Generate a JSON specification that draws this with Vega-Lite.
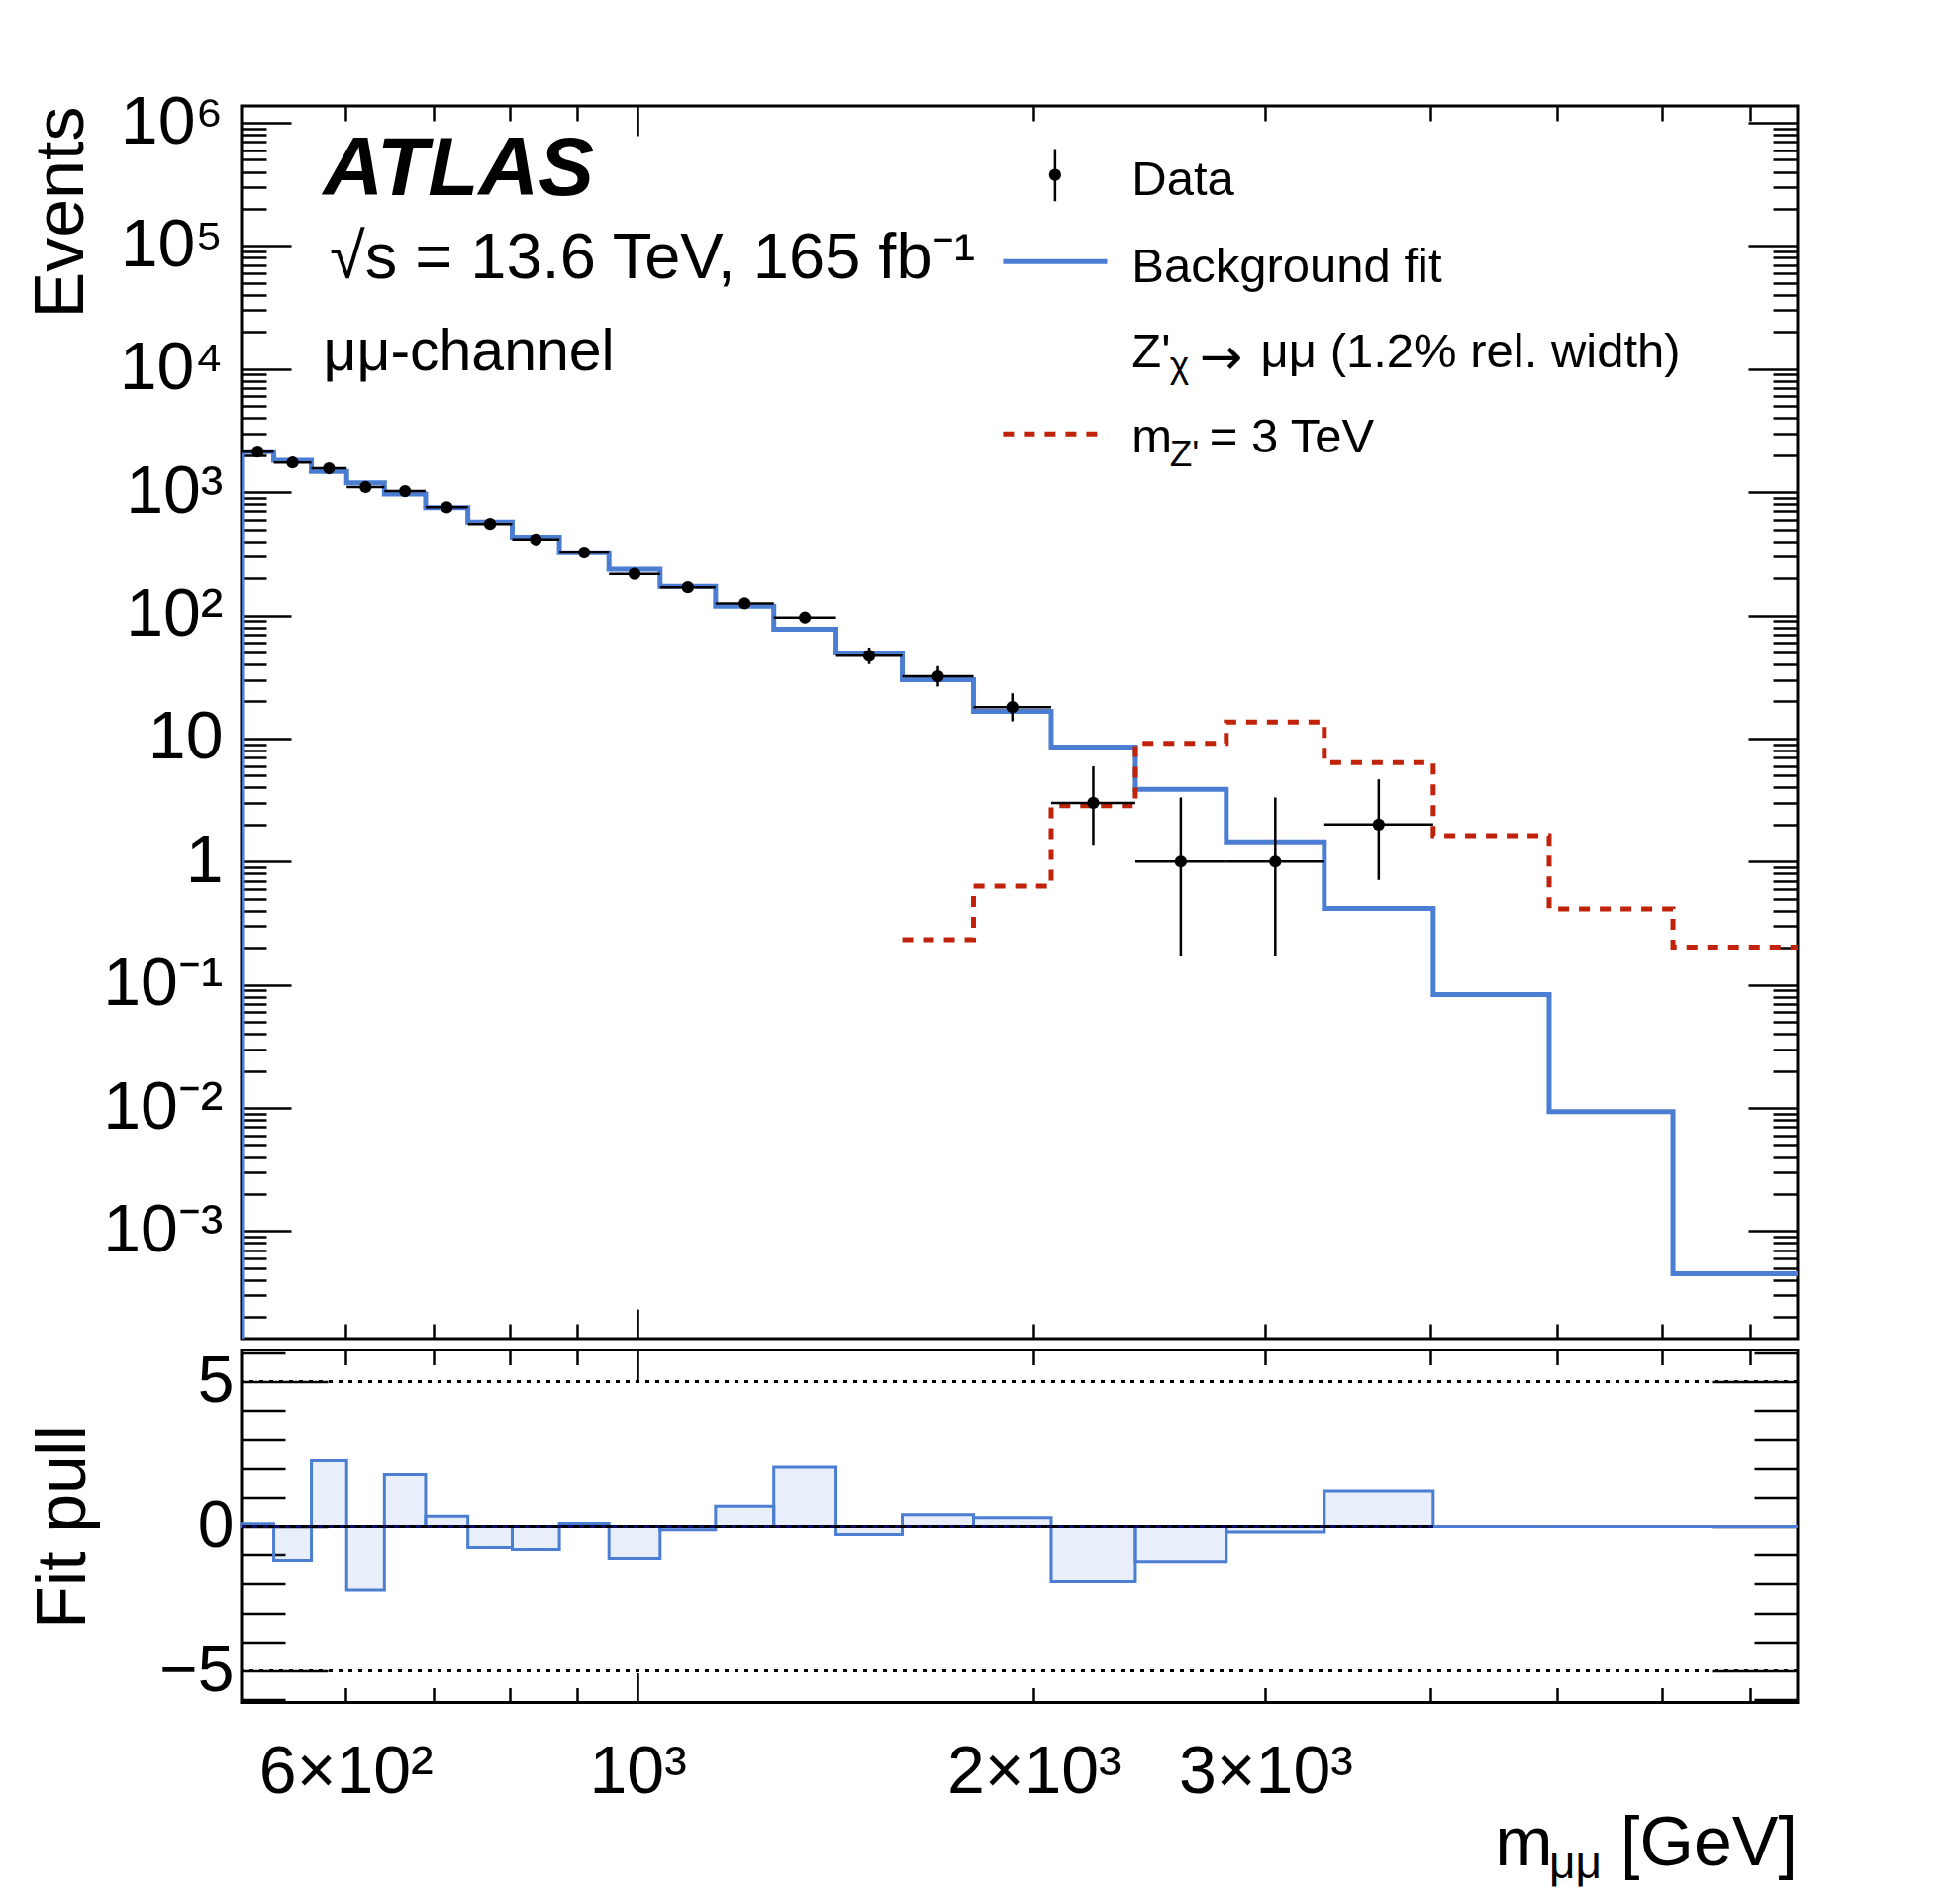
{
  "$schema": "https://vega.github.io/schema/vega-lite/v6.json",
  "background": "white",
  "padding": {"left": 25, "top": 88, "right": 5, "bottom": 5},
  "config": {
    "view": {"stroke": "black", "strokeWidth": 3},
    "axis": {
      "grid": false, "domain": false, "tickColor": "black", "tickWidth": 2.5,
      "labelFont": "Liberation Sans", "labelColor": "black", "titleFont": "Liberation Sans",
      "titleColor": "black", "titleFontWeight": "normal", "labelOverlap": false, "labelFlush": false, "labelBound": false
    },
    "text": {"font": "Liberation Sans", "color": "black"}
  },
  "datasets": {
    "bkg": [
      {"m": 500, "v": 0.0001}, {"m": 500, "v": 2130}, {"m": 529, "v": 1813}, {"m": 565, "v": 1474},
      {"m": 601, "v": 1189}, {"m": 642, "v": 966}, {"m": 690, "v": 750}, {"m": 743, "v": 573},
      {"m": 803, "v": 432}, {"m": 872, "v": 322}, {"m": 951, "v": 237}, {"m": 1040, "v": 172},
      {"m": 1146, "v": 119}, {"m": 1269, "v": 77.3}, {"m": 1415, "v": 49.6}, {"m": 1589, "v": 30.0},
      {"m": 1800, "v": 16.6}, {"m": 2062, "v": 8.52}, {"m": 2389, "v": 3.87}, {"m": 2801, "v": 1.449},
      {"m": 3325, "v": 0.417}, {"m": 4023, "v": 0.0834}, {"m": 4928, "v": 0.00935},
      {"m": 6120, "v": 0.000451}, {"m": 7612, "v": 0.000451}
    ],
    "sig": [
      {"m": 1589, "v": 0.233}, {"m": 1800, "v": 0.632}, {"m": 2062, "v": 2.85}, {"m": 2389, "v": 9.15},
      {"m": 2801, "v": 13.6}, {"m": 3325, "v": 6.37}, {"m": 4023, "v": 1.625}, {"m": 4928, "v": 0.413},
      {"m": 6120, "v": 0.203}, {"m": 7612, "v": 0.203}
    ],
    "counts": [
      {"lo": 500, "hi": 529, "c": 514.3, "n": 2135, "nlo": 2089, "nhi": 2182},
      {"lo": 529, "hi": 565, "c": 546.7, "n": 1740, "nlo": 1698, "nhi": 1782},
      {"lo": 565, "hi": 601, "c": 582.7, "n": 1563, "nlo": 1524, "nhi": 1603},
      {"lo": 601, "hi": 642, "c": 621.2, "n": 1100, "nlo": 1067, "nhi": 1134},
      {"lo": 642, "hi": 690, "c": 665.6, "n": 1020, "nlo": 988, "nhi": 1053},
      {"lo": 690, "hi": 743, "c": 716.0, "n": 755, "nlo": 728, "nhi": 783},
      {"lo": 743, "hi": 803, "c": 772.4, "n": 553, "nlo": 530, "nhi": 577},
      {"lo": 803, "hi": 872, "c": 836.8, "n": 414, "nlo": 394, "nhi": 435},
      {"lo": 872, "hi": 951, "c": 910.7, "n": 324, "nlo": 306, "nhi": 343},
      {"lo": 951, "hi": 1040, "c": 994.5, "n": 217, "nlo": 202, "nhi": 233},
      {"lo": 1040, "hi": 1146, "c": 1091.7, "n": 169, "nlo": 156, "nhi": 183},
      {"lo": 1146, "hi": 1269, "c": 1205.9, "n": 125, "nlo": 114, "nhi": 137},
      {"lo": 1269, "hi": 1415, "c": 1340.0, "n": 96, "nlo": 86.7, "nhi": 106.8},
      {"lo": 1415, "hi": 1589, "c": 1499.5, "n": 47, "nlo": 40.2, "nhi": 54.9},
      {"lo": 1589, "hi": 1800, "c": 1691.2, "n": 32, "nlo": 26.4, "nhi": 38.7},
      {"lo": 1800, "hi": 2062, "c": 1926.6, "n": 18, "nlo": 13.8, "nhi": 23.3},
      {"lo": 2062, "hi": 2389, "c": 2219.5, "n": 3, "nlo": 1.37, "nhi": 5.94},
      {"lo": 2389, "hi": 2801, "c": 2586.8, "n": 1, "nlo": 0.17, "nhi": 3.32},
      {"lo": 2801, "hi": 3325, "c": 3051.8, "n": 1, "nlo": 0.17, "nhi": 3.32},
      {"lo": 3325, "hi": 4023, "c": 3657.4, "n": 2, "nlo": 0.71, "nhi": 4.66}
    ],
    "pull": [
      {"lo": 500, "hi": 529, "pull": 0.09}, {"lo": 529, "hi": 565, "pull": -1.2},
      {"lo": 565, "hi": 601, "pull": 2.26}, {"lo": 601, "hi": 642, "pull": -2.21},
      {"lo": 642, "hi": 690, "pull": 1.78}, {"lo": 690, "hi": 743, "pull": 0.35},
      {"lo": 743, "hi": 803, "pull": -0.72}, {"lo": 803, "hi": 872, "pull": -0.79},
      {"lo": 872, "hi": 951, "pull": 0.10}, {"lo": 951, "hi": 1040, "pull": -1.13},
      {"lo": 1040, "hi": 1146, "pull": -0.11}, {"lo": 1146, "hi": 1269, "pull": 0.69},
      {"lo": 1269, "hi": 1415, "pull": 2.04}, {"lo": 1415, "hi": 1589, "pull": -0.27},
      {"lo": 1589, "hi": 1800, "pull": 0.40}, {"lo": 1800, "hi": 2062, "pull": 0.30},
      {"lo": 2062, "hi": 2389, "pull": -1.92}, {"lo": 2389, "hi": 2801, "pull": -1.24},
      {"lo": 2801, "hi": 3325, "pull": -0.19}, {"lo": 3325, "hi": 4023, "pull": 1.22},
      {"lo": 4023, "hi": 4928, "pull": 0}, {"lo": 4928, "hi": 6120, "pull": 0},
      {"lo": 6120, "hi": 7612, "pull": 0}
    ]
  },
  "bounds": "flush",
  "spacing": 11.5,
  "vconcat": [
    {
      "width": 1572,
      "height": 1245,
      "layer": [
        {
          "data": {"name": "bkg"},
          "mark": {"type": "line", "interpolate": "step-after", "stroke": "#4b7dd2", "strokeWidth": 5, "clip": true},
          "encoding": {
            "x": {"field": "m", "type": "quantitative", "scale": {"type": "log", "domain": [500, 7612], "nice": false},
              "axis": {"orient": "bottom", "values": [600, 700, 800, 900, 2000, 3000, 4000, 5000, 6000, 7000], "tickSize": -15, "labels": false, "title": null}},
            "y": {"field": "v", "type": "quantitative", "scale": {"type": "log", "domain": [0.000134, 1370000], "nice": false},
              "axis": {"orient": "left", "values": [0.001, 0.01, 0.1, 1, 10, 100, 1000, 10000, 100000, 1000000], "tickSize": -50,
                "labelExpr": "datum.value >= 1e6 ? '10⁶' : datum.value >= 1e5 ? '10⁵' : datum.value >= 1e4 ? '10⁴' : datum.value >= 1000 ? '10³' : datum.value >= 100 ? '10²' : datum.value >= 10 ? '10' : datum.value >= 1 ? '1' : datum.value >= 0.1 ? '10⁻¹' : datum.value >= 0.01 ? '10⁻²' : '10⁻³'",
                "labelFontSize": 68, "labelPadding": 69,
                "title": "Events", "titleFontSize": 70, "titleAngle": -90, "titleX": -182, "titleY": 0, "titleAlign": "right", "titleBaseline": "middle"}}
          }
        },
        {
          "data": {"name": "sig"},
          "mark": {"type": "line", "interpolate": "step-after", "stroke": "#c0230a", "strokeWidth": 5, "strokeDash": [11, 10], "clip": true},
          "encoding": {
            "x": {"field": "m", "type": "quantitative", "scale": {"type": "log", "domain": [500, 7612], "nice": false},
              "axis": {"orient": "bottom", "values": [1000], "tickSize": -30, "labels": false, "title": null}},
            "y": {"field": "v", "type": "quantitative", "scale": {"type": "log", "domain": [0.000134, 1370000], "nice": false},
              "axis": {"orient": "left", "values": [0.0002,0.0003,0.0004,0.0005,0.0006,0.0007,0.0008,0.0009,0.002,0.003,0.004,0.005,0.006,0.007,0.008,0.009,0.02,0.03,0.04,0.05,0.06,0.07,0.08,0.09,0.2,0.3,0.4,0.5,0.6,0.7,0.8,0.9,2,3,4,5,6,7,8,9,20,30,40,50,60,70,80,90,200,300,400,500,600,700,800,900,2000,3000,4000,5000,6000,7000,8000,9000,20000,30000,40000,50000,60000,70000,80000,90000,200000,300000,400000,500000,600000,700000,800000,900000], "tickSize": -25, "labels": false, "title": null}}
          }
        },
        {
          "data": {"name": "counts"},
          "mark": {"type": "rule", "stroke": "black", "strokeWidth": 2.5},
          "encoding": {
            "x": {"field": "lo", "type": "quantitative", "scale": {"type": "log", "domain": [500, 7612], "nice": false},
              "axis": {"orient": "top", "values": [600, 700, 800, 900, 2000, 3000, 4000, 5000, 6000, 7000], "tickSize": -15, "labels": false, "title": null}},
            "x2": {"field": "hi"},
            "y": {"field": "n", "type": "quantitative", "scale": {"type": "log", "domain": [0.000134, 1370000], "nice": false},
              "axis": {"orient": "right", "values": [0.001, 0.01, 0.1, 1, 10, 100, 1000, 10000, 100000, 1000000], "tickSize": -50, "labels": false, "title": null}}
          }
        },
        {
          "data": {"name": "counts"},
          "mark": {"type": "rule", "stroke": "black", "strokeWidth": 2.5},
          "encoding": {
            "x": {"field": "c", "type": "quantitative", "scale": {"type": "log", "domain": [500, 7612], "nice": false},
              "axis": {"orient": "top", "values": [1000], "tickSize": -30, "labels": false, "title": null}},
            "y": {"field": "nlo", "type": "quantitative", "scale": {"type": "log", "domain": [0.000134, 1370000], "nice": false},
              "axis": {"orient": "right", "values": [0.0002,0.0003,0.0004,0.0005,0.0006,0.0007,0.0008,0.0009,0.002,0.003,0.004,0.005,0.006,0.007,0.008,0.009,0.02,0.03,0.04,0.05,0.06,0.07,0.08,0.09,0.2,0.3,0.4,0.5,0.6,0.7,0.8,0.9,2,3,4,5,6,7,8,9,20,30,40,50,60,70,80,90,200,300,400,500,600,700,800,900,2000,3000,4000,5000,6000,7000,8000,9000,20000,30000,40000,50000,60000,70000,80000,90000,200000,300000,400000,500000,600000,700000,800000,900000], "tickSize": -25, "labels": false, "title": null}},
            "y2": {"field": "nhi"}
          }
        },
        {
          "data": {"name": "counts"},
          "mark": {"type": "point", "filled": true, "color": "black", "size": 150, "opacity": 1},
          "encoding": {
            "x": {"field": "c", "type": "quantitative", "scale": {"type": "log", "domain": [500, 7612], "nice": false}, "axis": null},
            "y": {"field": "n", "type": "quantitative", "scale": {"type": "log", "domain": [0.000134, 1370000], "nice": false}, "axis": null}
          }
        },
        {
          "data": {"values": [{"a": 1895.6, "b": 2274, "y": 74530}]},
          "mark": {"type": "rule", "stroke": "#4b7dd2", "strokeWidth": 5},
          "encoding": {
            "x": {"field": "a", "type": "quantitative", "scale": {"type": "log", "domain": [500, 7612], "nice": false}, "axis": null}, "x2": {"field": "b"},
            "y": {"field": "y", "type": "quantitative", "scale": {"type": "log", "domain": [0.000134, 1370000], "nice": false}, "axis": null}
          }
        },
        {
          "data": {"values": [{"a": 1895.6, "b": 2274, "y": 2972}]},
          "mark": {"type": "rule", "stroke": "#c0230a", "strokeWidth": 5, "strokeDash": [11, 10]},
          "encoding": {
            "x": {"field": "a", "type": "quantitative", "scale": {"type": "log", "domain": [500, 7612], "nice": false}, "axis": null}, "x2": {"field": "b"},
            "y": {"field": "y", "type": "quantitative", "scale": {"type": "log", "domain": [0.000134, 1370000], "nice": false}, "axis": null}
          }
        },
        {
          "data": {"values": [{"x": 2076, "lo": 230600, "hi": 611700}]},
          "mark": {"type": "rule", "stroke": "black", "strokeWidth": 2.5},
          "encoding": {
            "x": {"field": "x", "type": "quantitative", "scale": {"type": "log", "domain": [500, 7612], "nice": false}, "axis": null},
            "y": {"field": "lo", "type": "quantitative", "scale": {"type": "log", "domain": [0.000134, 1370000], "nice": false}, "axis": null}, "y2": {"field": "hi"}
          }
        },
        {
          "data": {"values": [{"x": 2076, "y": 378000}]},
          "mark": {"type": "point", "filled": true, "color": "black", "size": 150, "opacity": 1},
          "encoding": {
            "x": {"field": "x", "type": "quantitative", "scale": {"type": "log", "domain": [500, 7612], "nice": false}, "axis": null},
            "y": {"field": "y", "type": "quantitative", "scale": {"type": "log", "domain": [0.000134, 1370000], "nice": false}, "axis": null}
          }
        },
        {
          "data": {"values": [{"x": 576.7, "y": 257700, "t": "ATLAS"}]},
          "mark": {"type": "text", "align": "left", "baseline": "alphabetic", "fontSize": 84, "fontWeight": "bold", "fontStyle": "italic"},
          "encoding": {
            "x": {"field": "x", "type": "quantitative", "scale": {"type": "log", "domain": [500, 7612], "nice": false}, "axis": null},
            "y": {"field": "y", "type": "quantitative", "scale": {"type": "log", "domain": [0.000134, 1370000], "nice": false}, "axis": null},
            "text": {"field": "t"}
          }
        },
        {
          "data": {"values": [{"x": 583.4, "y": 55120, "t": "√s = 13.6 TeV, 165 fb⁻¹"}]},
          "mark": {"type": "text", "align": "left", "baseline": "alphabetic", "fontSize": 65},
          "encoding": {
            "x": {"field": "x", "type": "quantitative", "scale": {"type": "log", "domain": [500, 7612], "nice": false}, "axis": null},
            "y": {"field": "y", "type": "quantitative", "scale": {"type": "log", "domain": [0.000134, 1370000], "nice": false}, "axis": null},
            "text": {"field": "t"}
          }
        },
        {
          "data": {"values": [{"x": 576.7, "y": 9777, "t": "μμ-channel"}]},
          "mark": {"type": "text", "align": "left", "baseline": "alphabetic", "fontSize": 59},
          "encoding": {
            "x": {"field": "x", "type": "quantitative", "scale": {"type": "log", "domain": [500, 7612], "nice": false}, "axis": null},
            "y": {"field": "y", "type": "quantitative", "scale": {"type": "log", "domain": [0.000134, 1370000], "nice": false}, "axis": null},
            "text": {"field": "t"}
          }
        },
        {
          "data": {"values": [
            {"x": 2374, "y": 257700, "t": "Data"},
            {"x": 2374, "y": 51170, "t": "Background fit"},
            {"x": 2374, "y": 10410, "t": "Z'"},
            {"x": 2975, "y": 10410, "t": "μμ (1.2% rel. width)"},
            {"x": 2374, "y": 2091, "t": "m"},
            {"x": 2719, "y": 2091, "t": "= 3 TeV"}
          ]},
          "mark": {"type": "text", "align": "left", "baseline": "alphabetic", "fontSize": 49},
          "encoding": {
            "x": {"field": "x", "type": "quantitative", "scale": {"type": "log", "domain": [500, 7612], "nice": false}, "axis": null},
            "y": {"field": "y", "type": "quantitative", "scale": {"type": "log", "domain": [0.000134, 1370000], "nice": false}, "axis": null},
            "text": {"field": "t"}
          }
        },
        {
          "data": {"values": [{"x": 2673, "y": 12140, "t": "→"}]},
          "mark": {"type": "text", "align": "left", "baseline": "middle", "fontSize": 52, "font": "DejaVu Sans"},
          "encoding": {
            "x": {"field": "x", "type": "quantitative", "scale": {"type": "log", "domain": [500, 7612], "nice": false}, "axis": null},
            "y": {"field": "y", "type": "quantitative", "scale": {"type": "log", "domain": [0.000134, 1370000], "nice": false}, "axis": null},
            "text": {"field": "t"}
          }
        },
        {
          "data": {"values": [
            {"x": 2537, "y": 8542, "t": "χ"},
            {"x": 2537, "y": 1614, "t": "Z'"}
          ]},
          "mark": {"type": "text", "align": "left", "baseline": "alphabetic", "fontSize": 37},
          "encoding": {
            "x": {"field": "x", "type": "quantitative", "scale": {"type": "log", "domain": [500, 7612], "nice": false}, "axis": null},
            "y": {"field": "y", "type": "quantitative", "scale": {"type": "log", "domain": [0.000134, 1370000], "nice": false}, "axis": null},
            "text": {"field": "t"}
          }
        }
      ],
      "resolve": {"axis": {"x": "independent", "y": "independent"}}
    },
    {
      "width": 1572,
      "height": 356,
      "layer": [
        {
          "data": {"name": "pull"},
          "mark": {"type": "rect", "fill": "#4b7dd2", "fillOpacity": 0.12, "stroke": "#4b7dd2", "strokeWidth": 3},
          "encoding": {
            "x": {"field": "lo", "type": "quantitative", "scale": {"type": "log", "domain": [500, 7612], "nice": false},
              "axis": {"orient": "bottom", "values": [600, 700, 800, 900, 2000, 3000, 4000, 5000, 6000, 7000], "tickSize": -15,
                "labelExpr": "datum.value == 600 ? '6×10²' : datum.value == 2000 ? '2×10³' : datum.value == 3000 ? '3×10³' : ''",
                "labelFontSize": 68, "labelPadding": 52, "title": null}},
            "x2": {"field": "hi"},
            "y": {"field": "pull", "type": "quantitative", "scale": {"domain": [-6.1, 6.1], "nice": false, "zero": false},
              "axis": {"orient": "left", "values": [-5, 0, 5], "tickSize": -87,
                "labelExpr": "datum.value < 0 ? '−5' : datum.value > 0 ? '5' : '0'",
                "labelFontSize": 66, "labelPadding": 95,
                "title": "Fit pull", "titleFontSize": 70, "titleAngle": -90, "titleX": -180, "titleY": 178, "titleAlign": "center", "titleBaseline": "middle"}},
            "y2": {"datum": 0}
          }
        },
        {
          "data": {"values": [{"p": 5}, {"p": -5}]},
          "mark": {"type": "rule", "stroke": "black", "strokeWidth": 3, "strokeDash": [4, 6]},
          "encoding": {
            "y": {"field": "p", "type": "quantitative", "scale": {"domain": [-6.1, 6.1], "nice": false, "zero": false},
              "axis": {"orient": "left", "values": [-6, -4, -3, -2, -1, 1, 2, 3, 4, 6], "tickSize": -44, "labels": false, "title": null}}
          }
        },
        {
          "data": {"values": [{"a": 500, "b": 4023, "z": 0}]},
          "mark": {"type": "rule", "stroke": "black", "strokeWidth": 3},
          "encoding": {
            "x": {"field": "a", "type": "quantitative", "scale": {"type": "log", "domain": [500, 7612], "nice": false},
              "axis": {"orient": "bottom", "values": [1000], "tickSize": -30, "labelExpr": "'10³'", "labelFontSize": 68, "labelPadding": 67, "title": null}},
            "x2": {"field": "b"},
            "y": {"field": "z", "type": "quantitative", "scale": {"domain": [-6.1, 6.1], "nice": false, "zero": false},
              "axis": {"orient": "right", "values": [-5, 0, 5], "tickSize": -87, "labels": false, "title": null}}
          }
        },
        {
          "data": {"values": [{"a": 500, "b": 4023, "z": 0}]},
          "mark": {"type": "rule", "stroke": "#10108c", "strokeWidth": 2, "strokeDash": [5, 6]},
          "encoding": {
            "x": {"field": "a", "type": "quantitative", "scale": {"type": "log", "domain": [500, 7612], "nice": false},
              "axis": {"orient": "top", "values": [600, 700, 800, 900, 2000, 3000, 4000, 5000, 6000, 7000], "tickSize": -15, "labels": false, "title": null}},
            "x2": {"field": "b"},
            "y": {"field": "z", "type": "quantitative", "scale": {"domain": [-6.1, 6.1], "nice": false, "zero": false},
              "axis": {"orient": "right", "values": [-6, -4, -3, -2, -1, 1, 2, 3, 4, 6], "tickSize": -44, "labels": false, "title": null}}
          }
        },
        {
          "data": {"values": [{"x": 4482, "y": -11.733, "t": "m"}]},
          "mark": {"type": "text", "align": "left", "baseline": "alphabetic", "fontSize": 70},
          "encoding": {
            "x": {"field": "x", "type": "quantitative", "scale": {"type": "log", "domain": [500, 7612], "nice": false},
              "axis": {"orient": "top", "values": [1000], "tickSize": -30, "labels": false, "title": null}},
            "y": {"field": "y", "type": "quantitative", "scale": {"domain": [-6.1, 6.1], "nice": false, "zero": false}, "axis": null},
            "text": {"field": "t"}
          }
        },
        {
          "data": {"values": [{"x": 7612, "y": -11.733, "t": "[GeV]"}]},
          "mark": {"type": "text", "align": "right", "baseline": "alphabetic", "fontSize": 70},
          "encoding": {
            "x": {"field": "x", "type": "quantitative", "scale": {"type": "log", "domain": [500, 7612], "nice": false}, "axis": null},
            "y": {"field": "y", "type": "quantitative", "scale": {"domain": [-6.1, 6.1], "nice": false, "zero": false}, "axis": null},
            "text": {"field": "t"}
          }
        },
        {
          "data": {"values": [{"x": 4929, "y": -12.19, "t": "μμ"}]},
          "mark": {"type": "text", "align": "left", "baseline": "alphabetic", "fontSize": 46},
          "encoding": {
            "x": {"field": "x", "type": "quantitative", "scale": {"type": "log", "domain": [500, 7612], "nice": false}, "axis": null},
            "y": {"field": "y", "type": "quantitative", "scale": {"domain": [-6.1, 6.1], "nice": false, "zero": false}, "axis": null},
            "text": {"field": "t"}
          }
        }
      ],
      "resolve": {"axis": {"x": "independent", "y": "independent"}}
    }
  ]
}
